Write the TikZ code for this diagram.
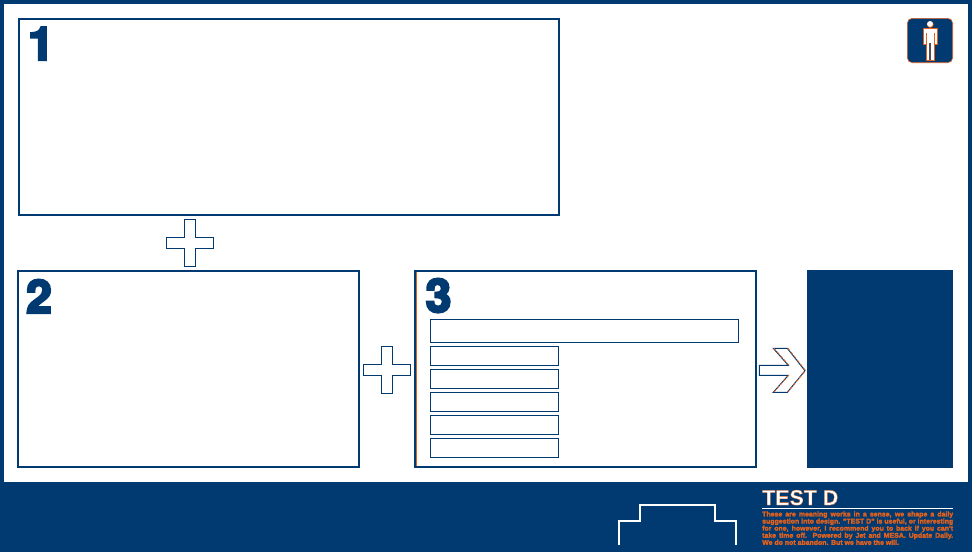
\documentclass[tikz,border=0pt]{standalone}
\usepackage{fontspec}
\setmainfont{Liberation Sans}
\newfontfamily\numeralfont{TeX Gyre Heros}
\definecolor{navy}{HTML}{003A70}
\definecolor{tangerine}{HTML}{E0601E}
% stroked text: fill colour from the node, outline given here (r g b, width)
\newcommand{\strokedtext}[3]{\special{pdf:code q 2 Tr #1 RG #2 w}#3\special{pdf:code Q}}
\newcommand{\fullline}[1]{\makebox[191pt][s]{#1}}
\tikzset{
  x=1pt,y=-1pt,
  bigbox/.style={draw=navy,line width=2pt,fill=white,inner sep=0pt,outer sep=0pt,anchor=north west},
  slot/.style={draw=navy,line width=1pt,fill=white,inner sep=0pt,outer sep=0pt,anchor=north west},
  symbolshape/.style={draw=navy,line width=1pt,fill=white},
  numeral/.style={text=navy,font=\numeralfont\fontsize{46}{46}\bfseries,inner sep=0pt,anchor=base west},
}
\begin{document}
\begin{tikzpicture}
\useasboundingbox (0,0) rectangle (972,552);
\fill[navy] (0,0) rectangle (972,552);
\fill[white] (4,4) rectangle (968,482);
% main boxes
\node[bigbox,minimum width=540pt,minimum height=196pt] (boxA) at (19,19) {};
\node[bigbox,minimum width=341pt,minimum height=196pt] (boxB) at (18,271) {};
\node[bigbox,minimum width=341pt,minimum height=196pt] (boxC) at (415,271) {};
\fill[tangerine] (416,272) rectangle (416.8,466);
\node[fill=navy,inner sep=0pt,outer sep=0pt,anchor=north west,minimum width=146pt,minimum height=198pt] (result) at (807,270) {};
% numerals
\node[numeral] (numA) at (28,60) {\strokedtext{0 0.227 0.439}{2.4}{1}};
\node[numeral] (numB) at (26,313) {\strokedtext{0 0.227 0.439}{2.4}{2}};
\node[numeral] (numC) at (425.5,312) {\strokedtext{0 0.227 0.439}{2.4}{3}};
% slots in box 3
\node[slot,minimum width=308pt,minimum height=23pt] (slotA) at (430.5,319) {};
\node[slot,minimum width=128pt,minimum height=19pt] (slotB) at (430.5,346.5) {};
\node[slot,minimum width=128pt,minimum height=19pt] (slotC) at (430.5,369.5) {};
\node[slot,minimum width=128pt,minimum height=19pt] (slotD) at (430.5,392.5) {};
\node[slot,minimum width=128pt,minimum height=19pt] (slotE) at (430.5,415.5) {};
\node[slot,minimum width=128pt,minimum height=19pt] (slotF) at (430.5,438.5) {};
% plus signs
\draw[symbolshape] (184.3,219.3) -- (195.7,219.3) -- (195.7,237.3) -- (213.7,237.3) -- (213.7,248.3) -- (195.7,248.3) -- (195.7,266.7) -- (184.3,266.7) -- (184.3,248.3) -- (166.3,248.3) -- (166.3,237.3) -- (184.3,237.3) -- cycle;
\draw[symbolshape] (381.3,346.3) -- (392.3,346.3) -- (392.3,364.3) -- (410.7,364.3) -- (410.7,375.3) -- (392.3,375.3) -- (392.3,393.3) -- (381.3,393.3) -- (381.3,375.3) -- (363.3,375.3) -- (363.3,364.3) -- (381.3,364.3) -- cycle;
% arrow
\draw[navy,line width=1pt] (759.3,365.3) -- (788.3,365.3) -- (773.3,348.3) -- (787.3,348.3) -- (805,370.7) -- (787.3,392.3) -- (773.3,392.3) -- (788.3,375.3) -- (759.3,375.3) -- cycle;
\draw[tangerine,line width=0.9pt,dash pattern=on 3pt off 2pt,xshift=0.5pt,yshift=0.2pt] (773.3,348.3) -- (788.3,365.3) (787.3,348.3) -- (805,370.7) -- (787.3,392.3) (788.3,375.3) -- (773.3,392.3);
% person icon
\draw[tangerine,line width=0.6pt,fill=navy,rounded corners=5pt] (907.3,18.3) rectangle (952.7,62.7);
\fill[tangerine] (930.3,24.4) circle (3.4);
\fill[white] (930,24) circle (2.9);
\fill[white,draw=tangerine,line width=0.8pt] (923,28.5) -- (937,28.5) -- (937,44) -- (934.2,44) -- (934.2,60) -- (926,60) -- (926,44) -- (923,44) -- cycle;
\draw[tangerine,line width=0.8pt] (926,33) -- (926,44) (934.2,33) -- (934.2,44);
\draw[navy!60!tangerine,line width=1.6pt] (930,43) -- (930,60);
% footer outline
\coordinate (stepStart) at (619,545);
\coordinate (stepEnd) at (736,545);
\draw[white,line width=2pt] (stepStart) -- (619,520.7) -- (640,520.7) -- (640,505) -- (715,505) -- (715,520.7) -- (736,520.7) -- (stepEnd);
% footer text
\node[text=white,font=\fontsize{21.4}{21.4}\bfseries,inner sep=0pt,anchor=base west] (title) at (762,505) {\strokedtext{0.88 0.38 0.12}{0.3}{TEST D}};
\coordinate (ruleL) at (762,508);
\coordinate (ruleR) at (953,508);
\draw[white,line width=1pt] (ruleL) -- (ruleR);
\node[text=tangerine,font=\fontsize{6.95}{7.1}\bfseries,inner sep=0pt,anchor=north west,align=left] (blurb) at (762,511.2) {\strokedtext{0.88 0.38 0.12}{0.2}{\fullline{These are meaning works in a sense, we shape a daily}\\\fullline{suggestion into design. "TEST D" is useful, or interesting}\\\fullline{for one, however, I recommend you to back if you can't}\\\fullline{take time off. Powered by Jet and MESA. Update Daily.}\\We do not abandon. But we have the will.}};
\end{tikzpicture}
\end{document}
